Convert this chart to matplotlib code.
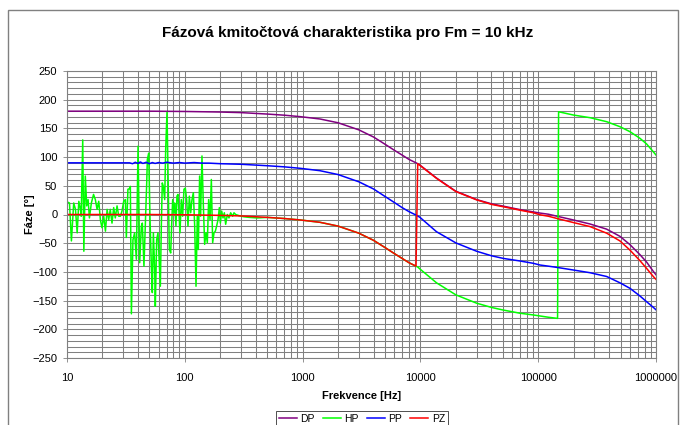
import matplotlib
matplotlib.use("Agg")
import matplotlib.pyplot as plt
from matplotlib.patches import Rectangle
from matplotlib.ticker import FixedLocator, LogLocator, MultipleLocator, NullFormatter

plt.rcParams['font.family'] = ['Liberation Sans', 'DejaVu Sans']

# DP - dolni propust
dp_f = [10, 50, 100, 200, 300, 500, 700, 951, 1405, 2000, 3000, 4000, 5000, 6000,
        7000, 8000, 9290, 9920, 13700, 20000, 30000, 40300, 50600,
        70100, 90800, 103500, 122000, 148000, 198700, 275000, 381000, 494000,
        601000, 731000, 833000, 948000, 1000000]
dp_v = [180, 180, 179.5, 178.5, 177.5, 175, 173, 170.5, 166.4, 159.8, 147.5, 135, 122.5, 112,
        103.5, 96, 89.5, 86, 63.5, 40.5, 26, 18.5, 14.5,
        8.5, 4.5, 2.5, 0.5, -3.5, -9.5, -16.5, -25.5, -38,
        -52.5, -70, -83, -99, -105]

# HP - horni propust (sum na nizkych kmitoctech)
hp_f = [10, 10.5, 10.9, 11.4, 11.8, 12.2, 12.6, 13.0, 13.2, 13.6, 13.9, 14.3, 14.7,
        15.1, 15.5, 16.1, 16.8, 17.4, 18.0, 18.6, 19.2, 19.8, 20.5, 21.2, 21.9,
        22.6, 23.3, 24.1, 24.9, 25.7, 26.6, 27.5, 28.4, 29.3, 30.3, 31.3, 31.9,
        32.9, 34.0, 34.5, 35.2, 36.3, 37.5, 38.8, 40.1, 41.4, 42.8, 43.6, 45.0,
        46.2, 47.5, 48.1, 49.4, 50.6, 52.0, 53.0, 54.1, 55.5, 56.2, 57.7, 59.2,
        60.4, 62.0, 63.2, 64.4, 65.7, 67.5, 68.8, 70.6, 72.0, 73.9, 75.9, 77.3,
        78.9, 80.9, 82.0, 84.1, 85.8, 87.5, 89.3, 91.0, 93.4, 95.9, 98.4, 101.0,
        103.7, 106.4, 109.3, 112.2, 115.1, 118.2, 121.3, 124.5, 127.7, 130.2,
        133.6, 136.2, 139.9, 143.5, 147.4, 151.3, 155.3, 159.4, 163.7, 168.0,
        172.4, 177.0, 181.7, 186.4, 191.4, 196.5, 200.4, 205.6, 211.0, 216.6,
        222.3, 229.6, 237.2, 245.0, 254.7, 261.6, 270.3, 288.4, 318, 351, 413,
        500, 700, 951, 1405, 2000, 3000, 4000, 5000, 6000, 7000, 8000,
        9180, 9490, 9920, 13700, 20000, 30000, 40300, 50600, 70100, 90800, 122000,
        146000, 149000, 198700, 275000, 381000, 494000, 601000, 731000, 833000,
        948000, 1000000]
hp_v = [22, 20, -46, 20, 9, -32, 23, 9, -3, 130, -64, 67, 15,
        26, -6, 20, 35, 26, 9, 23, -9, -23, -3, -29, 9,
        -9, 9, -15, 12, -6, 15, -3, -3, 6, 23, 26, -40,
        44, 45, 49, -173, -44, -32, -78, 119, -84, -20, -15, -90,
        -20, 55, 96, 107, -3, -90, -136, -32, -96, -160, -44, -32,
        -72, -125, -20, 55, 49, 26, 113, 178, 78, -61, -67, -20,
        26, 3, 20, -20, 32, 35, 3, -32, 26, -3, 44, 46,
        26, -20, 32, 3, 26, 38, -20, -125, -3, -61,
        67, -3, 102, 20, -52, -32, -49, 26, -9, 61,
        -49, -32, -29, -20, -9, 12, -15, 6, -6, 3,
        -17, 0, -6, 3, -3, 3, 0, -2, -4, -5, -6,
        -5, -7, -9.5, -13.6, -20.2, -32.5, -45, -57.5, -68, -76.5, -84,
        -90, -91.5, -95, -119, -140, -154.5, -162, -166.5, -172, -175, -179,
        -181, 179, 173.3, 168.7, 161.7, 153, 144.3, 132.7, 122.8,
        109.4, 103.7]

# PP - pasmova propust
pp_f = [10, 30, 34, 36, 38, 40, 42, 44, 47, 50, 53, 56, 60, 65, 70, 80, 90, 100,
        120, 140, 160, 200, 300, 500, 700, 951, 1405, 2000, 3000, 4000, 5000, 6000,
        7000, 8000, 9290, 9920, 13700, 20000, 30000, 40300, 50600,
        70100, 90800, 103500, 122000, 148000, 198700, 275000, 381000, 494000,
        601000, 731000, 833000, 948000, 1000000]
pp_v = [90, 90, 90, 88.5, 91, 89, 91.5, 89, 91, 88.5, 90.5, 89, 90.5, 89.5, 91, 89.5, 90.5, 89.5,
        90.5, 89.5, 89.5, 88.5, 87.5, 85, 83, 80.5, 76.3, 69.6, 57, 44.5, 31.5, 21,
        12, 5, -1.5, -5, -30, -49.5, -64, -72, -76.5,
        -81, -85, -88, -90, -92.5, -96.7, -101.4, -108, -119,
        -128.6, -142, -152, -161.7, -166]

# PZ - pasmova zadrz
pz_f = [10, 50, 100, 200, 300, 500, 700, 951, 1405, 2000, 3000, 4000, 5000, 6000,
        7000, 8000, 9180, 9490, 9920, 13700, 20000, 30000, 40300, 50600,
        70100, 90800, 103500, 122000, 148000, 198700, 275000, 381000, 494000,
        601000, 731000, 833000, 948000, 1000000]
pz_v = [0, 0, -0.5, -1.5, -2.5, -5, -7, -9.5, -13.6, -20.2, -32.5, -45, -57.5, -68,
        -76.5, -84, -90, 88.5, 85.5, 63, 40, 25.5, 17.5, 13.5,
        7.5, 3, -0.5, -3, -7.5, -14, -21, -32.5, -46,
        -62, -80.5, -94, -108, -113]

x_ticks = [10, 100, 1000, 10000, 100000, 1000000]
x_labels = ['10', '100', '1000', '10000', '100000', '1000000']

fig = plt.figure(figsize=(6.85, 4.25), dpi=100)
ax = fig.add_axes([67 / 685, 1 - 358 / 425, (656 - 67) / 685, (358 - 71) / 425])

ax.plot(dp_f, dp_v, color='#800080', lw=1.1, label='DP')
ax.plot(hp_f, hp_v, color='#00ff00', lw=1.1, label='HP')
ax.plot(pp_f, pp_v, color='#0000ff', lw=1.1, label='PP')
ax.plot(pz_f, pz_v, color='#ff0000', lw=1.1, label='PZ')

ax.set_xscale('log')
ax.set_xlim(10, 1000000)
ax.set_ylim(-250, 250)
ax.xaxis.set_major_locator(FixedLocator(x_ticks))
ax.set_xticklabels(x_labels)
ax.xaxis.set_minor_locator(LogLocator(base=10, subs=range(2, 10), numticks=20))
ax.xaxis.set_minor_formatter(NullFormatter())
ax.yaxis.set_major_locator(MultipleLocator(50))
ax.yaxis.set_minor_locator(MultipleLocator(10))

ax.grid(True, which='both', color='#808080', lw=0.75)
ax.set_axisbelow(True)
ax.tick_params(which='major', labelsize=8, length=3, width=0.6, color='#808080')
ax.tick_params(axis='x', which='major', pad=7.5)
ax.tick_params(axis='y', which='major', pad=4)
ax.tick_params(which='minor', length=0)
for s in ax.spines.values():
    s.set_color('#808080')
    s.set_linewidth(0.8)

ax.set_xlabel('Frekvence [Hz]', fontsize=8, fontweight='bold', labelpad=6)
ax.set_ylabel('Fáze [°]', fontsize=8, fontweight='bold')
ax.yaxis.set_label_coords(-0.054, 0.5)

fig.text(348 / 685, 1 - 33 / 425, 'Fázová kmitočtová charakteristika pro Fm = 10 kHz',
         ha='center', va='center', fontsize=11, fontweight='bold')

leg = fig.legend(loc='upper center', bbox_to_anchor=(362 / 685, 1 - 411 / 425), ncol=4,
                 fontsize=7.5, frameon=True, fancybox=False, edgecolor='black',
                 handlelength=1.7, handletextpad=0.35, columnspacing=0.8,
                 borderpad=0.3, borderaxespad=0)
leg.get_frame().set_linewidth(0.6)

# ramecek grafu
fig.patches.append(Rectangle((8 / 685, -0.1), 670 / 685, 0.1 + 1 - 10 / 425,
                             transform=fig.transFigure, fill=False,
                             edgecolor='#808080', lw=1))

fig.savefig('out.png', dpi=100)
